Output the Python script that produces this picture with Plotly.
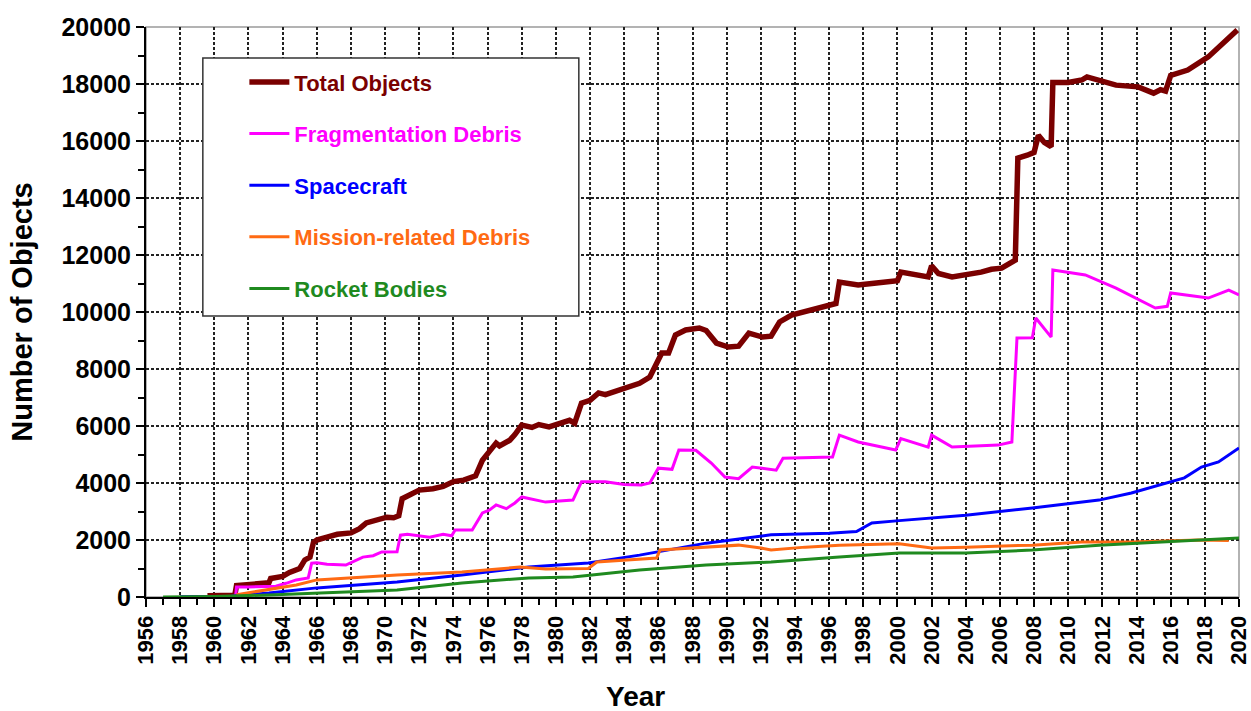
import plotly.graph_objects as go

# ---- data ----
total_year = [1959.6, 1961.2, 1961.3, 1962.0, 1962.6, 1963.2, 1963.3, 1964.0, 1964.4, 1965.0, 1965.3, 1965.6,
              1965.8, 1966.0, 1966.6, 1967.2, 1968.0, 1968.5, 1968.9, 1969.6, 1970.1, 1970.5, 1970.8, 1971.0,
              1971.5, 1972.0, 1972.8, 1973.4, 1974.0, 1974.6, 1975.3, 1975.7, 1976.1, 1976.5, 1976.7, 1977.3,
              1977.6, 1978.0, 1978.6, 1979.0, 1979.6, 1980.3, 1980.8, 1981.1, 1981.5, 1982.0, 1982.5, 1982.9,
              1983.6, 1984.3, 1984.9, 1985.5, 1985.9, 1986.2, 1986.6, 1987.0, 1987.6, 1988.4, 1988.8, 1989.4,
              1990.1, 1990.7, 1991.3, 1992.1, 1992.6, 1993.1, 1993.8, 1995.0, 1996.2, 1996.4, 1996.6, 1997.7,
              1998.5, 1999.5, 2000.0, 2000.2, 2001.0, 2001.8, 2002.0, 2002.4, 2003.2, 2004.0, 2004.9, 2005.5,
              2006.1, 2006.9, 2007.05, 2007.6, 2008.0, 2008.25, 2008.6, 2009.0, 2009.1, 2010.0, 2010.8, 2011.1,
              2012.0, 2012.8, 2014.1, 2015.0, 2015.4, 2015.7, 2016.0, 2017.0, 2018.2, 2019.2, 2019.9]
total_val = [40, 60, 400, 420, 460, 500, 650, 720, 860, 1000, 1300, 1400,
             1900, 2000, 2100, 2200, 2250, 2400, 2600, 2700, 2800, 2780, 2850, 3450,
             3600, 3750, 3800, 3880, 4050, 4100, 4250, 4800, 5100, 5400, 5300, 5500,
             5700, 6030, 5950, 6050, 5970, 6100, 6200, 6100, 6800, 6900, 7160, 7100,
             7250, 7400, 7500, 7720, 8200, 8560, 8560, 9190, 9370, 9440, 9350, 8910,
             8770, 8800, 9260, 9120, 9150, 9650, 9890, 10070, 10250, 10300, 11050, 10950,
             11000, 11050, 11100, 11400, 11300, 11230, 11620, 11350, 11230, 11300, 11400, 11500,
             11540, 11820, 15400, 15500, 15600, 16200, 15950, 15800, 18050, 18050, 18140, 18250,
             18100, 17960, 17900, 17680, 17800, 17750, 18300, 18490, 18950, 19540, 19890]

frag_year = [1961.25, 1961.3, 1962.0, 1963.3, 1963.6, 1964.2, 1964.8, 1965.5, 1965.7, 1966.0, 1966.6, 1967.7,
             1968.2, 1968.7, 1969.3, 1969.8, 1970.7, 1970.9, 1971.3, 1972.0, 1972.6, 1973.4, 1973.9, 1974.1,
             1975.1, 1975.7, 1976.1, 1976.5, 1977.1, 1977.6, 1978.0, 1979.4, 1980.3, 1981.0, 1981.5, 1982.9,
             1984.0, 1985.0, 1985.5, 1986.0, 1986.8, 1987.2, 1988.2, 1989.1, 1989.9, 1990.7, 1991.5, 1992.9,
             1993.3, 1994.5, 1996.2, 1996.6, 1997.7, 1999.9, 2000.2, 2001.8, 2002.0, 2003.2, 2005.9, 2006.7,
             2007.0, 2007.9, 2008.1, 2009.0, 2009.1, 2011.0, 2012.8, 2015.1, 2015.8, 2016.0, 2018.2, 2019.4,
             2020.0]
frag_val = [50, 350, 350, 360, 380, 480, 600, 670, 1190, 1200, 1150, 1120,
            1250, 1400, 1450, 1580, 1590, 2170, 2200, 2150, 2100, 2200, 2150, 2350,
            2350, 2950, 3050, 3230, 3100, 3300, 3510, 3330, 3380, 3400, 4040, 4040,
            3950, 3930, 4000, 4520, 4480, 5160, 5150, 4700, 4210, 4150, 4560, 4450,
            4870, 4880, 4910, 5680, 5440, 5160, 5560, 5260, 5680, 5260, 5330, 5440,
            9090, 9100, 9790, 9120, 11470, 11300, 10840, 10140, 10200, 10670, 10490, 10770,
            10600]

sc_year = [1958.0, 1961.0, 1963.2, 1966.0, 1970.7, 1974.5, 1978.4, 1981.9, 1984.9, 1988.8, 1992.6, 1996.0,
           1997.6, 1998.5, 2000.1, 2004.0, 2007.9, 2011.8, 2013.7, 2015.7, 2016.8, 2017.8, 2018.8, 2020.0]
sc_val = [5, 30, 140, 320, 530, 770, 1050, 1190, 1470, 1890, 2180, 2240,
          2300, 2600, 2680, 2870, 3120, 3400, 3650, 4000, 4180, 4560, 4740, 5230]

mrd_year = [1961.3, 1962.0, 1963.2, 1964.8, 1966.0, 1968.7, 1970.7, 1974.5, 1977.9, 1979.4, 1981.9, 1982.4,
            1985.9, 1986.1, 1988.8, 1990.7, 1992.0, 1992.6, 1994.6, 1996.6, 2000.1, 2002.0, 2004.0, 2007.9,
            2010.8, 2013.7, 2017.6, 2019.4]
mrd_val = [80, 150, 250, 420, 600, 700, 770, 880, 1050, 980, 1000, 1230,
           1370, 1650, 1750, 1820, 1720, 1650, 1750, 1820, 1870, 1720, 1750, 1820,
           1930, 1930, 2000, 1980]

rb_year = [1957.0, 1960.0, 1963.2, 1966.0, 1970.7, 1974.5, 1978.4, 1981.0, 1984.9, 1988.8, 1992.6, 1996.6,
           2000.1, 2004.0, 2007.9, 2011.8, 2015.7, 2020.0]
rb_val = [0, 20, 70, 140, 250, 490, 670, 700, 950, 1120, 1230, 1400,
          1540, 1540, 1650, 1820, 1930, 2070]

series = [
    ("Total Objects", total_year, total_val, "#7a0000", 5.5),
    ("Fragmentation Debris", frag_year, frag_val, "#ff00ff", 3),
    ("Spacecraft", sc_year, sc_val, "#0000ff", 3),
    ("Mission-related Debris", mrd_year, mrd_val, "#ff6a13", 3),
    ("Rocket Bodies", rb_year, rb_val, "#1f8a1f", 3),
]

FONT = "Liberation Sans, Arial, sans-serif"

fig = go.Figure()
for i, (name, xs, ys, color, w) in enumerate(series):
    fig.add_trace(go.Scatter(
        x=xs, y=ys, mode="lines", line=dict(color=color, width=w),
        name=f"<span style='color:{color}'>{name}</span>",
        legendgroup=f"g{i}",
    ))

fig.update_layout(
    width=1251, height=711,
    margin=dict(l=146, r=12, t=27, b=114),
    paper_bgcolor="white", plot_bgcolor="white",
    font=dict(family=FONT, color="black"),
    showlegend=True,
    legend=dict(
        x=0.09, y=0.94, xanchor="left", yanchor="top",
        bgcolor="rgba(0,0,0,0)", borderwidth=0,
        font=dict(family=FONT, size=22, weight="bold"),
        tracegroupgap=20, itemwidth=40,
    ),
    shapes=[
        dict(type="rect", xref="x domain", yref="y domain", x0=0, x1=1, y0=0, y1=1,
             line=dict(color="#9a9a9a", width=1.5), layer="below"),
        dict(type="rect", xref="x domain", yref="y domain", x0=0.052, x1=0.396, y0=0.493, y1=0.9456,
             line=dict(color="#333333", width=1.5), fillcolor="white", layer="above"),
    ],
    annotations=[
        dict(text="Year", xref="paper", yref="paper", x=0.448, y=-0.175,
             xanchor="center", yanchor="middle", showarrow=False,
             font=dict(family=FONT, size=28, weight="bold", color="black")),
    ],
)

fig.update_xaxes(
    range=[1956, 2020], tick0=1956, dtick=2, tickangle=-90,
    tickfont=dict(family=FONT, size=22, weight="bold"),
    ticklabeloverflow="allow", automargin=False,
    showline=True, linecolor="black", linewidth=2,
    ticks="outside", ticklen=8, tickwidth=1.5, tickcolor="black",
    showgrid=True, gridcolor="#222222", gridwidth=1.5, griddash="3px,2px",
    minor=dict(dtick=1, ticks="outside", ticklen=6, tickwidth=1.5, tickcolor="black", showgrid=False),
    zeroline=False,
)
fig.update_yaxes(
    range=[0, 20000], tick0=0, dtick=2000, tickformat="d",
    tickfont=dict(family=FONT, size=25, weight="bold"),
    automargin=False,
    showline=True, linecolor="black", linewidth=2,
    ticks="outside", ticklen=8, tickwidth=1.5, tickcolor="black",
    showgrid=True, gridcolor="#222222", gridwidth=1.5, griddash="3px,2px",
    minor=dict(dtick=1000, ticks="outside", ticklen=6, tickwidth=1.5, tickcolor="black", showgrid=False),
    zeroline=False,
    title=dict(text="Number of Objects", font=dict(family=FONT, size=29, weight="bold"), standoff=20),
)

fig.write_html("out.html", config={"displayModeBar": False},
               post_script="document.body.style.margin='0px';")
